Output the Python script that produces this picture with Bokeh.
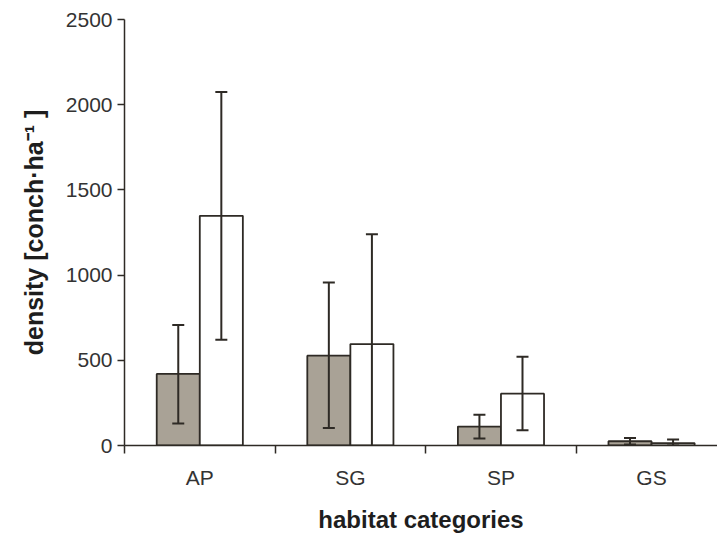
from bokeh.plotting import figure
from bokeh.models import Range1d, FixedTicker, Whisker, ColumnDataSource, TeeHead
from bokeh.transform import dodge
from bokeh.embed import file_html
from bokeh.resources import INLINE

categories = ["AP", "SG", "SP", "GS"]
gray_mean = [420, 527, 111, 25]
gray_upper = [707, 956, 180, 44]
gray_lower = [129, 103, 41, 6]
white_mean = [1348, 595, 304, 14]
white_upper = [2074, 1240, 521, 35]
white_lower = [620, -60, 90, 0]

pos = [i + 0.5 for i in range(len(categories))]
BW = 0.286

src_g = ColumnDataSource(dict(x=pos, top=gray_mean, up=gray_upper, lo=gray_lower))
src_w = ColumnDataSource(dict(x=pos, top=white_mean, up=white_upper, lo=white_lower))

p = figure(width=717, height=535, output_backend="svg", toolbar_location=None,
           x_range=Range1d(0, 3.938), y_range=Range1d(0, 2500),
           min_border_left=124, min_border_top=19, min_border_bottom=89, min_border_right=0)
p.outline_line_color = None
p.grid.visible = False
p.background_fill_color = "white"
p.border_fill_color = "white"

edge = "#2e2a25"
p.vbar(x=dodge("x", -BW / 2, range=p.x_range), top="top", width=BW, bottom=0, source=src_g,
       fill_color="#a9a296", line_color=edge, line_width=1.8)
p.vbar(x=dodge("x", BW / 2, range=p.x_range), top="top", width=BW, bottom=0, source=src_w,
       fill_color="white", line_color=edge, line_width=1.8)

for src, off in ((src_g, -BW / 2), (src_w, BW / 2)):
    w = Whisker(base=dodge("x", off, range=p.x_range), upper="up", lower="lo", source=src,
                line_color=edge, line_width=2, level="overlay",
                upper_head=TeeHead(size=12, line_color=edge, line_width=2),
                lower_head=TeeHead(size=12, line_color=edge, line_width=2))
    p.add_layout(w)

xa = p.xaxis[0]
xa.ticker = FixedTicker(ticks=pos, minor_ticks=[0, 1, 2, 3, 4])
xa.major_label_overrides = {pp: c for pp, c in zip(pos, categories)}
xa.major_tick_out = 0
xa.major_tick_in = 0
xa.minor_tick_out = 8
xa.minor_tick_in = 0
xa.minor_tick_line_color = edge
xa.minor_tick_line_width = 1.5
xa.axis_line_color = edge
xa.axis_line_width = 1.5
xa.major_label_standoff = 12
xa.major_label_text_font = "Liberation Sans"
xa.major_label_text_font_size = "21px"
xa.major_label_text_color = "#333333"
xa.axis_label = "habitat categories"
xa.axis_label_text_font = "Liberation Sans"
xa.axis_label_text_font_style = "bold"
xa.axis_label_text_font_size = "24px"
xa.axis_label_text_color = "#1e1e1e"
xa.axis_label_standoff = 14

ya = p.yaxis[0]
ya.ticker = FixedTicker(ticks=[0, 500, 1000, 1500, 2000, 2500], minor_ticks=[])
ya.major_tick_out = 7
ya.major_tick_in = 0
ya.major_tick_line_color = edge
ya.major_tick_line_width = 1.5
ya.axis_line_color = edge
ya.axis_line_width = 1.5
ya.major_label_standoff = 5
ya.major_label_text_font = "Liberation Sans"
ya.major_label_text_font_size = "21px"
ya.major_label_text_color = "#333333"
ya.axis_label = "density [conch·ha⁻¹ ]"
ya.axis_label_text_font = "Liberation Sans"
ya.axis_label_text_font_style = "bold"
ya.axis_label_text_font_size = "25px"
ya.axis_label_text_color = "#1e1e1e"
ya.axis_label_standoff = 15

open("out.html", "w").write(file_html(p, INLINE))
